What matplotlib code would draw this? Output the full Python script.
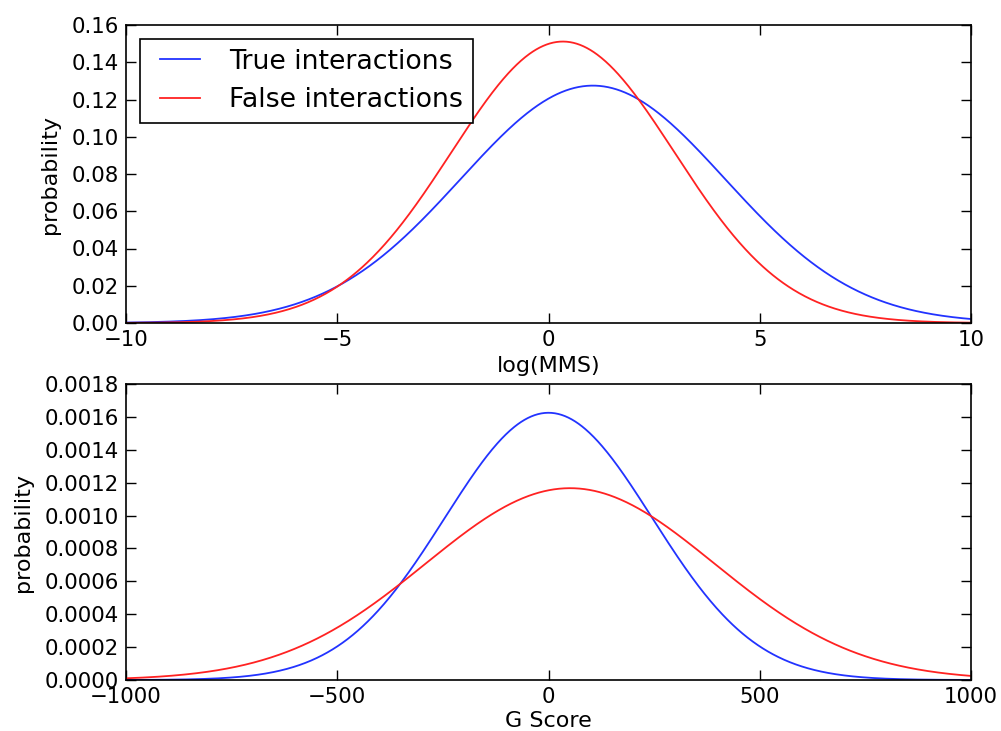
import numpy as np
import matplotlib
matplotlib.use("Agg")
import matplotlib.pyplot as plt
from matplotlib.lines import Line2D
from matplotlib.legend_handler import HandlerLine2D

# Gaussian fits (mean, std) for each panel
series_labels = ["True interactions", "False interactions"]
series_colors = ["#2233ff", "#ff2222"]

mms_means = [1.05, 0.34]
mms_stds = [3.13, 2.64]
g_means = [0.0, 51.0]
g_stds = [245.5, 342.0]

mms_range = (-10, 10)
g_range = (-1000, 1000)
mms_yticks = [0.00, 0.02, 0.04, 0.06, 0.08, 0.10, 0.12, 0.14, 0.16]
g_yticks = [0.0000, 0.0002, 0.0004, 0.0006, 0.0008, 0.0010, 0.0012, 0.0014, 0.0016, 0.0018]


def normal_pdf(x, mu, sd):
    return np.exp(-0.5 * ((x - mu) / sd) ** 2) / (sd * np.sqrt(2 * np.pi))


def style_axes(ax):
    ax.tick_params(direction="in", top=True, right=True, length=7, width=1,
                   labelsize=15.3, pad=5)
    for s in ax.spines.values():
        s.set_linewidth(1.2)


fig = plt.figure(figsize=(10.01, 7.31), dpi=100)
ax1 = fig.add_axes([126 / 1001, 1 - 323 / 731, 845 / 1001, 298 / 731])
ax2 = fig.add_axes([126 / 1001, 1 - 680 / 731, 845 / 1001, 296 / 731])

# top panel - log(MMS)
x1 = np.linspace(mms_range[0], mms_range[1], 1000)
for mu, sd, lab, col in zip(mms_means, mms_stds, series_labels, series_colors):
    ax1.plot(x1, normal_pdf(x1, mu, sd), color=col, lw=1.3, label=lab)
ax1.set_xlim(*mms_range)
ax1.set_ylim(0, 0.16)
ax1.set_xticks([-10, -5, 0, 5, 10])
ax1.set_xticklabels(["\u221210", "\u22125", "0", "5", "10"])
ax1.set_yticks(mms_yticks)
ax1.set_yticklabels(["%.2f" % v for v in mms_yticks])
ax1.set_xlabel("log(MMS)", fontsize=16, labelpad=4)
ax1.set_ylabel("probability", fontsize=16, labelpad=8.5)
style_axes(ax1)
leg = ax1.legend(loc="upper left", fontsize=19.3, fancybox=False, framealpha=1,
                 edgecolor="black", borderaxespad=0.53, handlelength=1.88,
                 handletextpad=1.08, borderpad=0.36, labelspacing=0.46,
                 handler_map={Line2D: HandlerLine2D(xpad=0.39)})
leg.get_frame().set_linewidth(1.2)

# bottom panel - G Score
x2 = np.linspace(g_range[0], g_range[1], 1000)
for mu, sd, col in zip(g_means, g_stds, series_colors):
    ax2.plot(x2, normal_pdf(x2, mu, sd), color=col, lw=1.3)
ax2.set_xlim(*g_range)
ax2.set_ylim(0, 0.0018)
ax2.set_xticks([-1000, -500, 0, 500, 1000])
ax2.set_xticklabels(["\u22121000", "\u2212500", "0", "500", "1000"])
ax2.set_yticks(g_yticks)
ax2.set_yticklabels(["%.4f" % v for v in g_yticks])
ax2.set_xlabel("G Score", fontsize=16, labelpad=3)
ax2.set_ylabel("probability", fontsize=16, labelpad=8.5)
style_axes(ax2)

fig.savefig("out.png", dpi=100, facecolor="white")
